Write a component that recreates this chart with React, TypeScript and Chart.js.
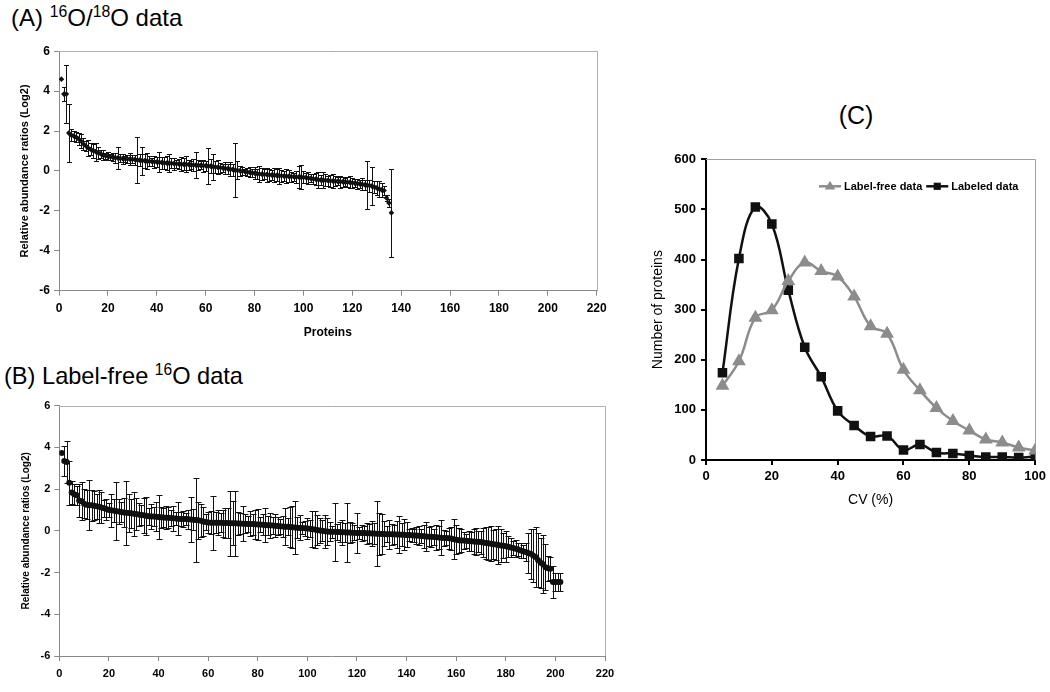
import React, { useEffect, useRef } from "react";
import { Chart, registerables } from "chart.js";

Chart.register(...registerables);

const FONT = '"Liberation Sans", Arial, Helvetica, sans-serif';
Chart.defaults.font.family = FONT;

// ---------- Panel A: 16O/18O data (proteins ranked by ratio) ----------
const aValues = [
  4.6, 3.85, 3.85, 1.9, 1.8, 1.75, 1.7, 1.6, 1.5, 1.35,
  1.25, 1.15, 1.08, 1.02, 0.97, 0.92, 0.86, 0.8, 0.76, 0.73,
  0.71, 0.69, 0.67, 0.65, 0.64, 0.62, 0.61, 0.6, 0.59, 0.58,
  0.57, 0.55, 0.54, 0.52, 0.51, 0.5, 0.48, 0.47, 0.46, 0.45,
  0.44, 0.42, 0.41, 0.4, 0.39, 0.38, 0.37, 0.36, 0.35, 0.34,
  0.33, 0.33, 0.32, 0.31, 0.3, 0.29, 0.28, 0.28, 0.27, 0.26,
  0.25, 0.24, 0.22, 0.2, 0.18, 0.17, 0.15, 0.13, 0.11, 0.09,
  0.07, 0.05, 0.03, 0.01, -0.01, -0.03, -0.05, -0.07, -0.09, -0.11,
  -0.13, -0.15, -0.16, -0.17, -0.18, -0.19, -0.2, -0.21, -0.22, -0.23,
  -0.24, -0.25, -0.26, -0.27, -0.28, -0.29, -0.3, -0.3, -0.31, -0.32,
  -0.33, -0.35, -0.37, -0.39, -0.41, -0.43, -0.45, -0.46, -0.47, -0.48,
  -0.49, -0.5, -0.51, -0.52, -0.53, -0.54, -0.55, -0.56, -0.57, -0.59,
  -0.61, -0.63, -0.65, -0.67, -0.69, -0.71, -0.73, -0.76, -0.8, -0.85,
  -0.9, -0.95, -0.98, -1.35, -1.6, -2.1,
];
const aErrors = [
  0, 0.35, 1.45, 1.45, 0.3, 0.25, 0.25, 0.3, 0.35, 0.3,
  0.25, 0.4, 0.3, 0.35, 0.45, 0.3, 0.2, 0.25, 0.15, 0.2,
  0.15, 0.2, 0.25, 0.55, 0.2, 0.25, 0.15, 0.2, 0.3, 0.2,
  0.25, 1.15, 0.3, 0.7, 0.35, 0.4, 0.25, 0.2, 0.3, 0.25,
  0.5, 0.3, 0.3, 0.35, 0.45, 0.25, 0.3, 0.2, 0.25, 0.35,
  0.3, 0.4, 0.25, 0.2, 0.3, 0.65, 0.25, 0.2, 0.3, 0.25,
  0.9, 0.35, 0.65, 0.3, 0.35, 0.25, 0.2, 0.3, 0.25, 0.35,
  0.3, 1.35, 0.45, 0.25, 0.2, 0.15, 0.2, 0.25, 0.2, 0.3,
  0.25, 0.4, 0.3, 0.25, 0.35, 0.3, 0.25, 0.35, 0.3, 0.4,
  0.3, 0.25, 0.35, 0.3, 0.25, 0.2, 0.3, 0.55, 0.6, 0.3,
  0.25, 0.3, 0.2, 0.25, 0.3, 0.4, 0.25, 0.4, 0.3, 0.25,
  0.3, 0.35, 0.25, 0.2, 0.3, 0.25, 0.2, 0.25, 0.3, 0.25,
  0.2, 0.25, 0.2, 0.3, 0.25, 1.2, 0.3, 0.95, 0.3, 0.35,
  0.4, 0.35, 0.25, 0.15, 0.2, 2.2,
];

// ---------- Panel B: Label-free 16O data ----------
const bValues = [
  3.73, 3.34, 3.3, 2.3, 1.83, 1.75, 1.7, 1.45, 1.42, 1.3,
  1.25, 1.23, 1.22, 1.2, 1.18, 1.15, 1.12, 1.08, 1.04, 1.0,
  0.98, 0.96, 0.94, 0.92, 0.9, 0.88, 0.86, 0.85, 0.84, 0.82,
  0.8, 0.78, 0.76, 0.74, 0.72, 0.7, 0.69, 0.68, 0.67, 0.66,
  0.65, 0.64, 0.63, 0.62, 0.61, 0.6, 0.59, 0.58, 0.57, 0.57,
  0.56, 0.55, 0.54, 0.53, 0.52, 0.5, 0.48, 0.45, 0.42, 0.4,
  0.39, 0.39, 0.38, 0.38, 0.38, 0.37, 0.37, 0.37, 0.36, 0.36,
  0.36, 0.35, 0.35, 0.34, 0.34, 0.33, 0.33, 0.32, 0.31, 0.3,
  0.3, 0.29, 0.28, 0.27, 0.26, 0.25, 0.24, 0.23, 0.22, 0.21,
  0.2, 0.19, 0.18, 0.17, 0.16, 0.15, 0.14, 0.13, 0.12, 0.11,
  0.1, 0.08, 0.06, 0.04, 0.02, 0.0, -0.02, -0.03, -0.04, -0.05,
  -0.05, -0.06, -0.06, -0.07, -0.07, -0.08, -0.08, -0.09, -0.09, -0.1,
  -0.1, -0.11, -0.11, -0.12, -0.12, -0.13, -0.13, -0.14, -0.14, -0.15,
  -0.15, -0.16, -0.16, -0.17, -0.17, -0.18, -0.18, -0.19, -0.19, -0.2,
  -0.2, -0.21, -0.22, -0.23, -0.24, -0.25, -0.26, -0.27, -0.28, -0.29,
  -0.3, -0.31, -0.32, -0.33, -0.34, -0.35, -0.36, -0.37, -0.4, -0.43,
  -0.45, -0.46, -0.47, -0.48, -0.49, -0.5, -0.51, -0.52, -0.53, -0.54,
  -0.56, -0.58, -0.6, -0.62, -0.64, -0.66, -0.68, -0.7, -0.72, -0.74,
  -0.77, -0.8, -0.83, -0.86, -0.9, -0.94, -0.98, -1.02, -1.06, -1.1,
  -1.18, -1.26, -1.4, -1.53, -1.6, -1.75, -1.8, -1.82, -2.45, -2.45,
  -2.45, -2.45,
];
const bErrors = [
  0, 0.7, 1.0, 1.05, 0.55, 0.5, 0.45, 0.8, 0.9, 0.7,
  0.7, 1.2, 0.75, 0.7, 0.6, 0.8, 0.75, 0.4, 0.5, 0.35,
  0.8, 0.55, 1.4, 0.6, 0.5, 0.7, 1.55, 0.9, 0.7, 1.05,
  0.75, 0.55, 0.5, 0.85, 0.9, 0.4, 0.6, 0.45, 0.7, 1.05,
  0.5, 0.45, 0.55, 0.5, 0.4, 0.6, 0.3, 0.8, 0.35, 0.4,
  0.3, 0.45, 1.1, 0.5, 2.0, 0.9, 0.8, 0.7, 0.4, 0.5,
  0.55, 1.3, 0.5, 0.6, 0.45, 0.65, 0.7, 0.7, 1.55, 1.05,
  1.55, 0.55, 0.5, 0.85, 0.45, 0.4, 0.6, 0.5, 0.7, 0.75,
  0.35, 0.5, 0.8, 0.45, 0.6, 0.4, 0.55, 0.45, 0.35, 0.5,
  0.9, 0.4, 0.95, 1.0, 1.25, 0.5, 0.6, 0.3, 0.35, 0.5,
  0.4, 0.85, 0.9, 0.7, 0.6, 0.5, 0.8, 0.65, 0.45, 0.3,
  1.4, 0.4, 0.5, 0.6, 0.45, 1.4, 0.5, 0.45, 0.35, 0.95,
  0.3, 0.4, 0.35, 0.5, 0.45, 0.6, 0.5, 1.55, 1.0, 0.95,
  0.6, 0.4, 0.7, 0.5, 0.45, 0.65, 0.9, 0.55, 0.75, 0.6,
  0.3, 0.35, 0.3, 0.4, 0.45, 0.35, 0.55, 0.7, 0.45, 0.5,
  0.4, 0.6, 0.55, 0.85, 0.4, 0.35, 0.5, 0.55, 0.95, 0.7,
  0.6, 0.55, 0.4, 0.35, 0.5, 0.45, 0.6, 0.65, 0.5, 0.55,
  0.7, 0.75, 0.8, 0.85, 0.7, 0.75, 0.9, 0.8, 0.6, 0.75,
  0.5, 0.45, 0.35, 0.4, 0.3, 0.35, 0.3, 0.45, 0.95, 1.2,
  1.25, 1.45, 1.3, 1.2, 1.4, 1.1, 0.6, 0.55, 0.75, 0.45,
  0.45, 0.45,
];

// ---------- Panel C: CV distribution ----------
const cvBins = [5, 10, 15, 20, 25, 30, 35, 40, 45, 50, 55, 60, 65, 70, 75, 80, 85, 90, 95, 100];
const labelFreeCounts = [148, 197, 284, 299, 357, 394, 377, 366, 326, 267, 252, 180, 139, 104, 78, 59, 41, 35, 25, 19];
const labeledCounts = [174, 402, 505, 471, 339, 225, 166, 98, 69, 47, 48, 20, 31, 15, 13, 9, 6, 6, 5, 7];
const seriesNames = ["Label-free data", "Labeled data"];

const ratioAxisTitle = "Relative abundance ratios (Log2)";

// ---------- plugins ----------
const errorBarPlugin = {
  id: "errorBars",
  beforeDatasetsDraw(chart: any, _args: any, opts: any) {
    const errs: number[] = opts.errors;
    if (!errs) return;
    const { ctx } = chart;
    const x = chart.scales.x;
    const y = chart.scales.y;
    const data = chart.data.datasets[0].data;
    const cap = opts.cap ?? 3;
    ctx.save();
    ctx.strokeStyle = opts.color ?? "#111";
    ctx.lineWidth = 1;
    ctx.beginPath();
    data.forEach((p: any, i: number) => {
      const e = errs[i];
      if (!e) return;
      const px = Math.round(x.getPixelForValue(p.x)) + 0.5;
      const top = Math.round(y.getPixelForValue(p.y + e)) + 0.5;
      const bot = Math.round(y.getPixelForValue(p.y - e)) + 0.5;
      ctx.moveTo(px, top);
      ctx.lineTo(px, bot);
      ctx.moveTo(px - cap, top);
      ctx.lineTo(px + cap, top);
      ctx.moveTo(px - cap, bot);
      ctx.lineTo(px + cap, bot);
    });
    ctx.stroke();
    ctx.restore();
  },
};

const framePlugin = {
  id: "frame",
  beforeDatasetsDraw(chart: any, _args: any, opts: any) {
    const { ctx, chartArea: a } = chart;
    ctx.save();
    ctx.strokeStyle = opts.color ?? "#a0a0a0";
    ctx.lineWidth = 1;
    ctx.beginPath();
    ctx.moveTo(Math.round(a.left), Math.round(a.top) + 0.5);
    ctx.lineTo(Math.round(a.right) + 0.5, Math.round(a.top) + 0.5);
    ctx.lineTo(Math.round(a.right) + 0.5, Math.round(a.bottom));
    ctx.stroke();
    ctx.restore();
  },
};

const insideLegendPlugin = {
  id: "insideLegend",
  afterDatasetsDraw(chart: any, _args: any, opts: any) {
    if (!opts || !opts.display) return;
    const { ctx, chartArea: a } = chart;
    let xPos = a.left + opts.dx;
    const yPos = a.top + opts.dy;
    ctx.save();
    ctx.font = `bold 11px ${FONT}`;
    ctx.textBaseline = "middle";
    ctx.textAlign = "left";
    chart.data.datasets.forEach((ds: any) => {
      const sample = 22;
      ctx.strokeStyle = ds.borderColor;
      ctx.lineWidth = ds.borderWidth;
      ctx.beginPath();
      ctx.moveTo(xPos, yPos);
      ctx.lineTo(xPos + sample, yPos);
      ctx.stroke();
      ctx.fillStyle = ds.pointBackgroundColor;
      const r = ds.pointRadius;
      const cx = xPos + sample / 2;
      ctx.beginPath();
      if (ds.pointStyle === "triangle") {
        ctx.moveTo(cx, yPos - r);
        ctx.lineTo(cx + r * 0.95, yPos + r * 0.6);
        ctx.lineTo(cx - r * 0.95, yPos + r * 0.6);
        ctx.closePath();
      } else {
        ctx.rect(cx - r * 0.72, yPos - r * 0.72, r * 1.44, r * 1.44);
      }
      ctx.fill();
      ctx.fillStyle = "#000";
      const label = ds.label;
      ctx.fillText(label, xPos + sample + 3, yPos + 0.5);
      xPos += sample + 3 + ctx.measureText(label).width + 4;
    });
    ctx.restore();
  },
};

function boldFont(size: number) {
  return { family: FONT, size, weight: "bold", style: "normal", lineHeight: 1.2 };
}

// ---------- configs ----------
function ratioConfig(values: number[], errors: number[], opts: any) {
  return {
    type: "scatter",
    data: {
      datasets: [
        {
          data: values.map((v, i) => ({ x: i + 1, y: v })),
          pointStyle: opts.pointStyle,
          pointRadius: opts.pointRadius,
          pointBackgroundColor: "#111",
          pointBorderColor: "#111",
          pointBorderWidth: 0,
          showLine: false,
        },
      ],
    },
    options: {
      responsive: false,
      animation: false,
      events: [],
      layout: { padding: opts.padding },
      plugins: {
        legend: { display: false },
        tooltip: { enabled: false },
        errorBars: { errors, cap: opts.cap, color: "#111" },
        frame: { color: "#b0b0b0" },
      },
      scales: {
        x: {
          type: "linear",
          min: 0,
          max: 220,
          ticks: { stepSize: 20, font: boldFont(opts.tickSize), color: "#000", padding: 6, autoSkip: false, maxRotation: 0 },
          grid: { drawOnChartArea: false, tickLength: 5, color: "#888" },
          border: { color: "#888", width: 1 },
          title: opts.xTitle
            ? { display: true, text: opts.xTitle, font: boldFont(12), color: "#000" }
            : { display: false },
          afterFit(s: any) {
            s.height = opts.xHeight;
          },
        },
        y: {
          type: "linear",
          min: -6,
          max: 6,
          ticks: { stepSize: 2, font: boldFont(opts.tickSize), color: "#000", padding: 4 },
          grid: { drawOnChartArea: false, tickLength: 5, color: "#888" },
          border: { color: "#888", width: 1 },
          title: { display: true, text: ratioAxisTitle, font: boldFont(opts.yTitleSize), color: "#000" },
          afterFit(s: any) {
            s.width = opts.yWidth;
          },
        },
      },
    },
    plugins: [errorBarPlugin, framePlugin],
  };
}

function cvConfig() {
  return {
    type: "line",
    data: {
      datasets: [
        {
          label: seriesNames[0],
          data: cvBins.map((c, i) => ({ x: c, y: labelFreeCounts[i] })),
          borderColor: "#8c8c8c",
          backgroundColor: "#8c8c8c",
          pointBackgroundColor: "#8c8c8c",
          pointBorderColor: "#8c8c8c",
          pointStyle: "triangle",
          pointRadius: 5.5,
          borderWidth: 2.5,
          tension: 0.4,
        },
        {
          label: seriesNames[1],
          data: cvBins.map((c, i) => ({ x: c, y: labeledCounts[i] })),
          borderColor: "#111",
          backgroundColor: "#111",
          pointBackgroundColor: "#111",
          pointBorderColor: "#111",
          pointStyle: "rect",
          pointRadius: 5,
          borderWidth: 2.5,
          tension: 0.4,
        },
      ],
    },
    options: {
      responsive: false,
      animation: false,
      events: [],
      layout: { padding: { left: 15.6, top: 19.3, right: 14.3, bottom: 7.6 } },
      plugins: {
        legend: { display: false },
        tooltip: { enabled: false },
        frame: { color: "#a0a0a0" },
        insideLegend: { display: true, dx: 113, dy: 27 },
      },
      scales: {
        x: {
          type: "linear",
          min: 0,
          max: 100,
          ticks: { stepSize: 20, font: boldFont(13), color: "#000", padding: 4, maxRotation: 0 },
          grid: { drawOnChartArea: false, tickLength: 5, color: "#000", lineWidth: 2 },
          border: { color: "#000", width: 2 },
          title: { display: true, text: "CV (%)", font: { family: FONT, size: 14 }, color: "#000" },
          afterFit(s: any) {
            s.height = 52.4;
          },
        },
        y: {
          type: "linear",
          min: 0,
          max: 600,
          ticks: { stepSize: 100, font: boldFont(13), color: "#000", padding: 5 },
          grid: { drawOnChartArea: false, tickLength: 5, color: "#000", lineWidth: 2 },
          border: { color: "#000", width: 2 },
          title: { display: true, text: "Number of proteins", font: { family: FONT, size: 14 }, color: "#000" },
          afterFit(s: any) {
            s.width = 60.4;
          },
        },
      },
    },
    plugins: [framePlugin, insideLegendPlugin],
  };
}

function ChartBox(props: { left: number; top: number; width: number; height: number; make: () => any }) {
  const ref = useRef<HTMLCanvasElement | null>(null);
  useEffect(() => {
    if (!ref.current) return;
    const chart = new Chart(ref.current, props.make());
    return () => chart.destroy();
  }, []);
  return (
    <canvas
      ref={ref}
      width={props.width}
      height={props.height}
      style={{ position: "absolute", left: props.left, top: props.top, width: props.width, height: props.height }}
    />
  );
}

const supStyle: React.CSSProperties = { fontSize: "0.66em", position: "relative", top: "-0.55em", verticalAlign: "baseline" };

export default function App() {
  return (
    <div
      style={{
        position: "fixed",
        left: 0,
        top: 0,
        width: 1050,
        height: 692,
        background: "#fff",
        overflow: "hidden",
        fontFamily: FONT,
      }}
    >
      <div style={{ position: "absolute", left: 11, top: 6, fontSize: 24, lineHeight: "24px", whiteSpace: "nowrap" }}>
        (A) <span style={supStyle}>16</span>O/<span style={supStyle}>18</span>O data
      </div>
      <div style={{ position: "absolute", left: 4, top: 365, fontSize: 23.6, lineHeight: "23.6px", whiteSpace: "nowrap" }}>
        (B) Label-free <span style={supStyle}>16</span>O data
      </div>
      <div
        style={{
          position: "absolute",
          left: 806,
          width: 100,
          textAlign: "center",
          top: 103,
          fontSize: 25,
          lineHeight: "25px",
        }}
      >
        (C)
      </div>
      <ChartBox
        left={0}
        top={40}
        width={620}
        height={310}
        make={() =>
          ratioConfig(aValues, aErrors, {
            pointStyle: "rectRot",
            pointRadius: 2.8,
            cap: 2.5,
            tickSize: 12,
            yTitleSize: 11,
            xTitle: "Proteins",
            padding: { left: 14.4, top: 9, right: 23.3, bottom: 6 },
            yWidth: 44.6,
            xHeight: 53.3,
          })
        }
      />
      <ChartBox
        left={0}
        top={395}
        width={630}
        height={297}
        make={() =>
          ratioConfig(bValues, bErrors, {
            pointStyle: "circle",
            pointRadius: 3,
            cap: 3,
            tickSize: 11,
            yTitleSize: 10,
            xTitle: null,
            padding: { left: 16.7, top: 7.7, right: 25, bottom: 0 },
            yWidth: 42.6,
            xHeight: 36,
          })
        }
      />
      <ChartBox left={630} top={140} width={420} height={380} make={cvConfig} />
    </div>
  );
}
